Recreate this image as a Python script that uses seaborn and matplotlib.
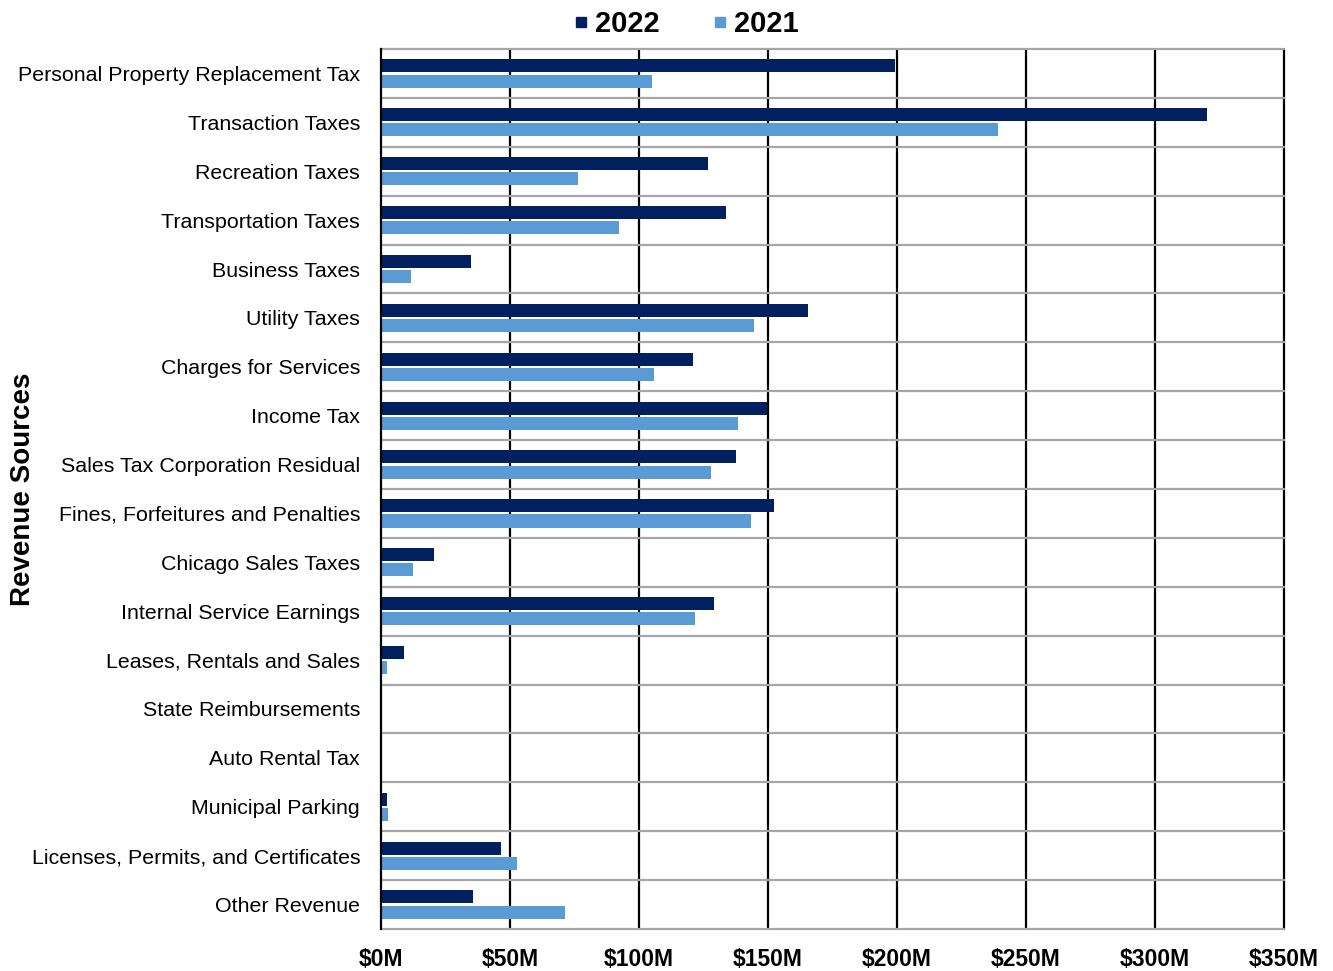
import matplotlib
matplotlib.use("Agg")
import matplotlib.pyplot as plt
from matplotlib.lines import Line2D
import seaborn as sns
import pandas as pd
import numpy as np

categories = [
    "Personal Property Replacement Tax",
    "Transaction Taxes",
    "Recreation Taxes",
    "Transportation Taxes",
    "Business Taxes",
    "Utility Taxes",
    "Charges for Services",
    "Income Tax",
    "Sales Tax Corporation Residual",
    "Fines, Forfeitures and Penalties",
    "Chicago Sales Taxes",
    "Internal Service Earnings",
    "Leases, Rentals and Sales",
    "State Reimbursements",
    "Auto Rental Tax",
    "Municipal Parking",
    "Licenses, Permits, and Certificates",
    "Other Revenue",
]
# values in $ millions
values_2022 = [199.1, 320.2, 126.7, 133.7, 34.8, 165.6, 121.0, 149.7, 137.8, 152.2,
               20.5, 128.9, 9.0, 0.0, 0.0, 2.3, 46.6, 35.5]
values_2021 = [105.0, 239.0, 76.3, 92.4, 11.6, 144.4, 106.0, 138.2, 128.1, 143.3,
               12.4, 121.9, 2.5, 0.0, 0.0, 2.8, 52.6, 71.4]
years = ["2022", "2021"]
x_ticks = [0, 50, 100, 150, 200, 250, 300, 350]
x_tick_labels = ["$0M", "$50M", "$100M", "$150M", "$200M", "$250M", "$300M", "$350M"]

df = pd.DataFrame({
    "Category": categories * 2,
    "Value": values_2022 + values_2021,
    "Year": [years[0]] * len(categories) + [years[1]] * len(categories),
})

sns.set_style("white")
plt.rcParams["font.family"] = ["Liberation Sans", "DejaVu Sans"]
plt.rcParams["text.color"] = "black"
plt.rcParams["axes.labelcolor"] = "black"
plt.rcParams["xtick.color"] = "black"
plt.rcParams["ytick.color"] = "black"

colors = {"2022": "#002060", "2021": "#5B9BD5"}
grid_gray = "#A6A6A6"

fig = plt.figure(figsize=(13.33, 9.71), dpi=100)
ax = fig.add_axes([0.2858, 0.0433, 0.9632 - 0.2858, 0.9495 - 0.0433])

sns.barplot(data=df, x="Value", y="Category", hue="Year", hue_order=years,
            palette=colors, saturation=1, orient="h", width=0.62, gap=0.14,
            linewidth=0, legend=False, ax=ax, zorder=3)

n = len(categories)
ax.set_xlim(0, 350)
ax.set_ylim(n - 0.5, -0.5)

# vertical black gridlines
for v in x_ticks[1:]:
    ax.axvline(v, color="black", lw=1.6, zorder=1, clip_on=False)
# horizontal gray separators
for b in np.arange(-0.5, n, 1.0):
    ax.axhline(b, color=grid_gray, lw=1.6, zorder=2, clip_on=False)

ax.set_xticks(x_ticks)
ax.set_xticklabels(x_tick_labels, fontsize=16.5, fontweight="bold")
ax.tick_params(axis="x", length=0, pad=14)

ax.set_yticks(range(n))
ax.set_yticklabels(categories, fontsize=15.4)
ax.set_yticks(np.arange(-0.5, n, 1.0), minor=True)
ax.tick_params(axis="y", which="major", length=0, pad=15)
ax.tick_params(axis="y", which="minor", length=4, width=1.6, color="black", direction="out")

for s in ["top", "bottom", "right"]:
    ax.spines[s].set_visible(False)
ax.spines["left"].set_color("black")
ax.spines["left"].set_linewidth(1.6)
ax.spines["left"].set_zorder(5)

ax.set_xlabel("")
ax.set_ylabel("Revenue Sources", fontsize=20, fontweight="bold")
ax.yaxis.set_label_coords(-0.382, 0.5)

handles = [Line2D([0], [0], marker="s", linestyle="none", markersize=7.5,
                  markerfacecolor=colors[y], markeredgecolor=colors[y]) for y in years]
fig.legend(handles, years, loc="center", bbox_to_anchor=(0.5146, 0.975), ncol=2,
           frameon=False, prop={"size": 21, "weight": "bold"},
           handlelength=0.5, handletextpad=0.25, columnspacing=1.8)

fig.savefig("out.png", dpi=100)
